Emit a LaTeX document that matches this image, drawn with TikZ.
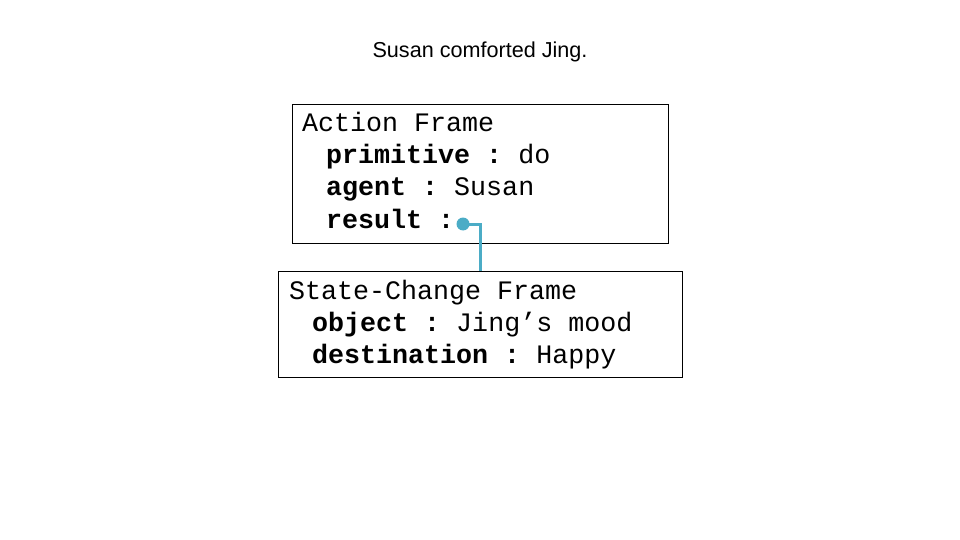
\documentclass[tikz,border=0pt]{standalone}
\usepackage{fontspec}
\setmainfont{Liberation Sans}
\setmonofont{Liberation Mono}
\definecolor{accent}{HTML}{4BACC6}
\begin{document}
\begin{tikzpicture}[x=1pt,y=-1pt,
  frame/.style={draw=black,line width=0.9pt,rectangle,inner sep=0pt},
  line/.style={anchor=base west,inner sep=0pt,font=\ttfamily\fontsize{26.67}{32}\selectfont},
  conn/.style={draw=accent,line width=3pt},
  dotnode/.style={circle,fill=accent,inner sep=0pt,minimum size=13pt}]
\useasboundingbox (0,0) rectangle (960,540);
\node[font=\fontsize{21.6}{24}\selectfont,inner sep=0pt] (title) at (480,52) {Susan comforted Jing.};
\node[frame,minimum width=376pt,minimum height=139pt] (af) at (480,173.5) {};
\node[frame,minimum width=404pt,minimum height=106pt] (sc) at (480,324) {};
\node[line] (a1) at (302,132) {Action Frame};
\node[line] (a2) at (326,164) {\textbf{primitive :} do};
\node[line] (a3) at (326,196) {\textbf{agent :} Susan};
\node[line] (a4) at (326,228) {\textbf{result :}};
\node[line] (s1) at (289,299) {State-Change Frame};
\node[line] (s2) at (312,331) {\textbf{object :} Jing’s mood};
\node[line] (s3) at (312,363) {\textbf{destination :} Happy};
\node[dotnode] (dot) at (463,224) {};
\draw[conn] (dot.center) -| (sc.north);
\end{tikzpicture}
\end{document}
